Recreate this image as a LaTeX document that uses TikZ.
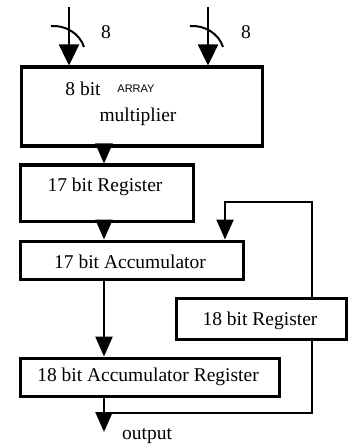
\documentclass[tikz,border=0pt]{standalone}
\usepackage{fontspec}
\setmainfont{Liberation Serif}
\newfontfamily\arrayfont{Liberation Sans}
\usetikzlibrary{arrows.meta,positioning,calc}
\tikzset{
  blk/.style={draw=black, line width=3.5pt, inner sep=0pt, anchor=north west},
  conn/.style={draw=black, line width=2.4pt},
  arr/.style={conn, -{Triangle[length=20pt,width=17pt]}},
  inarr/.style={conn, -{Triangle[length=21pt,width=20pt]}},
  txt/.style={inner sep=0pt, font=\fontsize{19.5}{21}\selectfont},
}
\begin{document}
\begin{tikzpicture}[x=1pt,y=-1pt]
\useasboundingbox (0,0) rectangle (350,446);
% boxes
\node[blk, minimum width=241pt, minimum height=79pt] (mult) at (19.5,65.5) {};
\node[blk, minimum width=173pt, minimum height=56pt] (reg17) at (18.5,163.5) {};
\node[blk, minimum width=223pt, minimum height=38pt] (acc17) at (18.5,239.5) {};
\node[blk, minimum width=170pt, minimum height=41pt] (reg18) at (174.5,296.5) {};
\node[blk, minimum width=259pt, minimum height=38pt] (accreg) at (18.5,356.5) {};
% texts
\node[txt] (t8bit) at (83,89) {8 bit};
\node[inner sep=0pt, font=\arrayfont\fontsize{11}{12}\selectfont] (tarray) at (136,89) {ARRAY};
\node[txt] (tmult) at (138,117) {multiplier};
\node[txt] (treg17) at (105,187) {17 bit Register};
\node[txt] (tacc17) at (130,262) {17 bit Accumulator};
\node[txt] (treg18) at (260,321) {18 bit Register};
\node[txt] (taccreg) at (148,377) {18 bit Accumulator Register};
\node[txt] (tout) at (147,436) {output};
\node[txt] (n8a) at (106,32) {8};
\node[txt] (n8b) at (246,32) {8};
% coordinates
\coordinate (in1) at (69,7);
\coordinate (in2) at (208,7);
\coordinate (colA) at (104,0);
\coordinate (colR) at (312,0);
\coordinate (fbTop) at (225,202);
\coordinate (fbBot) at (104,413);
\coordinate (outTip) at (104,432);
% inputs
\draw[inarr] (in1) -- (in1 |- mult.north);
\draw[inarr] (in2) -- (in2 |- mult.north);
\draw[line width=2pt] (51,26) .. controls (66,25) and (80,34) .. (84,47);
\draw[line width=2pt] (190,26) .. controls (205,25) and (219,34) .. (223,47);
% main chain
\draw[arr] (colA |- mult.south) -- (colA |- reg17.north);
\draw[arr] (colA |- reg17.south) -- (colA |- acc17.north);
\draw[arr] (colA |- acc17.south) -- (colA |- accreg.north);
\draw[arr] (colA |- accreg.south) -- (outTip);
% feedback
\draw[conn] (fbBot) -| (colR |- reg18.south);
\draw[arr] (colR |- reg18.north) |- (fbTop) -- (fbTop |- acc17.north);
\end{tikzpicture}
\end{document}
